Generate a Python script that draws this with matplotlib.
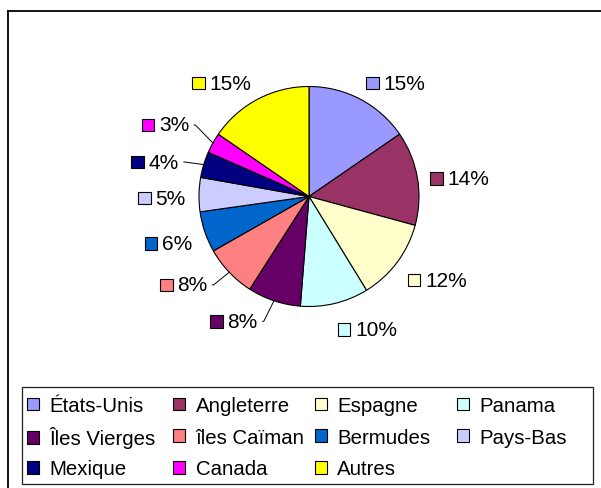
import matplotlib
matplotlib.use("Agg")
import matplotlib.pyplot as plt
import numpy as np
from matplotlib.offsetbox import AnnotationBbox, DrawingArea, HPacker, TextArea
from matplotlib.patches import Rectangle
from matplotlib.lines import Line2D

# donnees
pays = ["États-Unis", "Angleterre", "Espagne", "Panama", "Îles Vierges", "îles Caïman",
        "Bermudes", "Pays-Bas", "Mexique", "Canada", "Autres"]
parts = [15.4, 13.8, 12.0, 10.0, 7.8, 7.7, 6.0, 5.0, 3.8, 3.0, 15.4]
couleurs = ["#9999FF", "#993366", "#FFFFCC", "#CCFFFF", "#660066", "#FF8080",
            "#0066CC", "#CCCCFF", "#000080", "#FF00FF", "#FFFF00"]

# mise en page (pixels)
W, H = 601, 489
CX, CY, R = 309, 197.5, 110
BAS = 4   # petit decalage vertical de toutes les etiquettes (pixels, vers le bas)
# etiquettes deplacees avec trait de rappel : (dx, dy) en pixels, y vers le bas
decalage = {4: (-12, -5), 5: (-12, -7), 8: (-12, 0), 9: (-12, -11)}
col_x = [27.3, 173.3, 315, 456.7]     # bord gauche des colonnes de legende
rangs_y = [406.7, 438.3, 470]

plt.rcParams['font.family'] = ['Liberation Sans', 'DejaVu Sans']

fig = plt.figure(figsize=(W / 100, H / 100), dpi=100)
ax = fig.add_axes([0, 0, 1, 1])
wedges, _ = ax.pie(parts, colors=couleurs, startangle=90, counterclock=False,
                   wedgeprops=dict(edgecolor='black', linewidth=0.8))
ax.set_xlim(-CX / R, (W - CX) / R)
ax.set_ylim(-(H - CY) / R, CY / R)
ax.set_aspect('auto')
ax.axis('off')

total = sum(parts)
for i, w in enumerate(wedges):
    ang = np.deg2rad((w.theta1 + w.theta2) / 2)
    dx, dy = np.cos(ang), np.sin(ang)
    da = DrawingArea(9, 9, 0, 0)
    da.add_artist(Rectangle((0, 0), 9, 9, facecolor=couleurs[i],
                            edgecolor='black', linewidth=0.8))
    txt = TextArea(f"{parts[i] / total * 100:.0f}%", textprops=dict(fontsize=15))
    box = HPacker(children=[da, txt], align='center', pad=0, sep=3.5)
    fx = 0 if dx > 0 else 1
    fy = 0.5 - 0.5 * dy
    x0, y0 = 1.12 * dx, 1.12 * dy - BAS / R
    if i in decalage:
        ddx, ddy = decalage[i]
        ab = AnnotationBbox(box, (dx, dy), xybox=(x0 + ddx / R, y0 - ddy / R),
                            box_alignment=(fx, fy), frameon=False, pad=0,
                            arrowprops=dict(arrowstyle='-', color='black', lw=0.7,
                                            shrinkA=3, shrinkB=0, relpos=(1, 0.5),
                                            connectionstyle="arc,angleA=0,armA=6,"
                                                            "angleB=0,armB=0,rad=0"))
    else:
        ab = AnnotationBbox(box, (x0, y0), box_alignment=(fx, fy),
                            frameon=False, pad=0)
    ax.add_artist(ab)

# legende : grille 4 colonnes remplie ligne par ligne comme dans Excel
for k in range(len(pays)):
    c, r = k % 4, k // 4
    poignee = Rectangle((0, 0), 1, 1, facecolor=couleurs[k], edgecolor='black', linewidth=0.8)
    fig.legend([poignee], [pays[k]], loc='center left',
               bbox_to_anchor=(col_x[c] / W, 1 - rangs_y[r] / H), frameon=False,
               fontsize=14.7, handlelength=0.59, handleheight=0.59,
               handletextpad=0.5, borderpad=0, borderaxespad=0)

# cadres
fig.add_artist(Rectangle((21.7 / W, 1 - 485 / H), (593.3 - 21.7) / W, (485 - 387.7) / H,
                         transform=fig.transFigure, fill=False, edgecolor='#222222', lw=0.9))
fig.add_artist(Line2D([7.5 / W, 7.5 / W], [0, 1 - 12 / H], transform=fig.transFigure,
                      color='black', lw=1.3))
fig.add_artist(Line2D([7.5 / W, 1], [1 - 12 / H, 1 - 12 / H], transform=fig.transFigure,
                      color='black', lw=1.3))

fig.savefig('out.png', dpi=100, facecolor='white')
